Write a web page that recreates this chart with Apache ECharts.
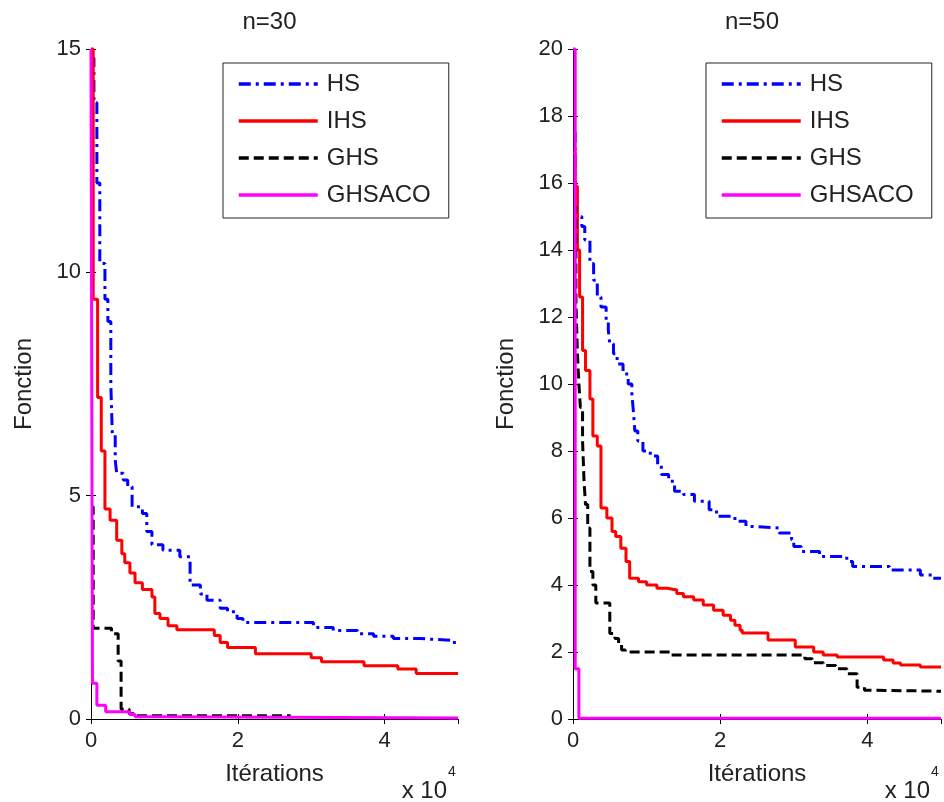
<!DOCTYPE html>
<html>
<head>
<meta charset="utf-8">
<script src="https://cdn.jsdelivr.net/npm/echarts@6/dist/echarts.min.js"></script>
<style>
html,body{margin:0;padding:0;background:#fff;}
#chart{width:944px;height:802px;}
</style>
</head>
<body>
<div id="chart"></div>
<script>
// ---- Data (x in units of 10^4 iterations) ----
const seriesNames = ['HS', 'IHS', 'GHS', 'GHSACO'];
const titles = ['n=30', 'n=50'];
const yMax = [15, 20];
const yInterval = [5, 2];
const xTicks = [0, 2, 4];

// n=30
const hs30X = [0,0.04,0.08,0.12,0.19,0.23,0.27,0.29,0.33,0.35,0.44,0.50,0.56,0.70,0.76,0.83,0.98,1.21,1.35,1.49,1.58,1.76,1.86,1.99,2.07,3.03,3.30,3.63,3.85,4.12,4.49,4.93,5.0];
const hs30Y = [14.8,13.8,12.0,10.2,9.4,8.9,7.5,6.4,5.8,5.5,5.35,5.2,4.75,4.6,4.2,3.9,3.78,3.63,3.0,2.8,2.66,2.48,2.4,2.25,2.16,2.05,1.98,1.91,1.85,1.8,1.76,1.71,1.7];
const ihs30X = [0,0.03,0.09,0.14,0.19,0.26,0.35,0.42,0.46,0.53,0.60,0.70,0.83,0.87,0.94,1.05,1.17,1.68,1.76,1.86,2.24,3.00,3.14,3.72,4.18,4.43,5.0];
const ihs30Y = [15,9.4,7.2,6.0,4.7,4.45,4.0,3.7,3.5,3.27,3.05,2.9,2.73,2.36,2.25,2.09,2.0,1.87,1.71,1.6,1.46,1.37,1.28,1.19,1.12,1.02,1.02];
const ghs30X = [0,0.03,0.28,0.37,0.41,0.52,0.60,2.72];
const ghs30Y = [4.75,2.03,1.91,1.3,0.22,0.12,0.07,0.07];
const ghsaco30X = [0,0.02,0.08,0.20,0.53,0.60,0.94,5.0];
const ghsaco30Y = [15,0.8,0.31,0.16,0.1,0.05,0.02,0.02];

// n=50
const hs50X = [0,0.03,0.12,0.16,0.23,0.28,0.33,0.38,0.45,0.48,0.50,0.55,0.60,0.68,0.75,0.80,0.82,0.84,0.88,0.95,1.05,1.15,1.20,1.30,1.38,1.50,1.65,1.85,1.95,2.20,2.35,2.45,2.80,2.97,3.00,3.10,3.35,3.72,3.80,4.30,4.72,4.88,5.0];
const hs50Y = [17.5,15.0,14.7,14.3,13.6,13.1,12.6,12.3,11.9,11.6,11.2,10.9,10.6,10.3,10.0,9.7,9.2,8.6,8.3,8.0,7.85,7.6,7.3,7.1,6.8,6.7,6.5,6.25,6.05,5.9,5.75,5.7,5.55,5.35,5.15,5.0,4.85,4.7,4.55,4.45,4.3,4.2,4.2];
const ihs50X = [0,0.03,0.06,0.09,0.13,0.17,0.23,0.27,0.33,0.38,0.46,0.53,0.58,0.65,0.72,0.77,0.89,1.00,1.14,1.28,1.41,1.50,1.64,1.77,1.91,2.04,2.14,2.20,2.27,2.30,2.65,3.02,3.27,3.40,3.59,4.22,4.35,4.45,4.72,5.0];
const ihs50Y = [16.9,15.9,14.0,12.6,11.0,10.4,9.55,8.45,8.15,6.3,6.0,5.6,5.45,5.1,4.7,4.2,4.1,4.0,3.9,3.85,3.75,3.65,3.55,3.4,3.25,3.1,2.95,2.8,2.65,2.57,2.36,2.15,2.0,1.91,1.85,1.76,1.67,1.61,1.55,1.55];
const ghs50X = [0,0.04,0.06,0.08,0.10,0.13,0.15,0.17,0.20,0.23,0.27,0.31,0.50,0.57,0.62,0.66,0.71,1.32,3.15,3.25,3.40,3.57,3.72,3.86,3.96,4.03,5.0];
const ghs50Y = [15.3,12.5,10.9,10.0,9.3,8.3,7.1,6.4,5.7,4.4,4.0,3.46,2.55,2.4,2.25,2.06,2.0,1.91,1.8,1.68,1.6,1.5,1.35,0.95,0.86,0.83,0.83];
const ghsaco50X = [0,0.03,0.08,5.0];
const ghsaco50Y = [20,1.5,0.02,0.02];

// ---- Styles ----
const FONT = '"Liberation Sans", Arial, Helvetica, sans-serif';
const TXT = '#222';
const styles = {
  HS: {color: '#0000ff', width: 3, type: [12, 5, 3, 5]},
  IHS: {color: '#ff0000', width: 3, type: 'solid'},
  GHS: {color: '#000000', width: 3, type: [10, 5]},
  GHSACO: {color: '#ff00ff', width: 3, type: 'solid'}
};
const panels = [
  [[hs30X, hs30Y], [ihs30X, ihs30Y], [ghs30X, ghs30Y], [ghsaco30X, ghsaco30Y]],
  [[hs50X, hs50Y], [ihs50X, ihs50Y], [ghs50X, ghs50Y], [ghsaco50X, ghsaco50Y]]
];
const zip = (xs, ys) => xs.map((x, i) => [x, ys[i]]);

const grids = [
  {left: 91, right: 486, top: 49, bottom: 83},
  {left: 573, right: 3, top: 49, bottom: 83}
];

const xAxes = [], yAxes = [], series = [], legends = [], titleArr = [], graphics = [];
const tickStyle = {show: true, inside: true, length: 5, lineStyle: {color: '#000', width: 1}};
const lineStyleAx = {show: true, lineStyle: {color: '#000', width: 1}};

grids.forEach((g, gi) => {
  xAxes.push({
    gridIndex: gi, type: 'value', min: 0, max: 5, interval: 2, position: 'bottom',
    axisLine: lineStyleAx, axisTick: tickStyle, splitLine: {show: false},
    axisLabel: {fontSize: 22, color: TXT, fontFamily: FONT, margin: 11, showMaxLabel: false},
    name: 'Itérations', nameLocation: 'middle', nameGap: 43,
    nameTextStyle: {fontSize: 24, color: TXT, fontFamily: FONT}
  });
  xAxes.push({
    gridIndex: gi, type: 'value', min: 0, max: 5, interval: 2, position: 'top',
    axisLine: lineStyleAx, axisTick: tickStyle, splitLine: {show: false},
    axisLabel: {show: false}
  });
  yAxes.push({
    gridIndex: gi, type: 'value', min: 0, max: yMax[gi], interval: yInterval[gi], position: 'left',
    axisLine: lineStyleAx, axisTick: tickStyle, splitLine: {show: false},
    axisLabel: {fontSize: 22, color: TXT, fontFamily: FONT, margin: 10},
    name: 'Fonction', nameLocation: 'middle', nameGap: 55,
    nameTextStyle: {fontSize: 24, color: TXT, fontFamily: FONT}
  });
  yAxes.push({
    gridIndex: gi, type: 'value', min: 0, max: yMax[gi], interval: yInterval[gi], position: 'right',
    axisLine: lineStyleAx, axisTick: tickStyle, splitLine: {show: false},
    axisLabel: {show: false}
  });
  seriesNames.forEach((name, si) => {
    const [xs, ys] = panels[gi][si];
    const st = styles[name];
    series.push({
      name: name, type: 'line', xAxisIndex: gi * 2, yAxisIndex: gi * 2,
      data: zip(xs, ys), step: 'end', symbol: 'none', showSymbol: false,
      clip: false, animation: false,
      lineStyle: {color: st.color, width: st.width, type: st.type},
      itemStyle: {color: st.color}
    });
  });
  const plotLeft = g.left, plotRight = 944 - g.right;
  titleArr.push({
    text: titles[gi], left: (plotLeft + plotRight) / 2 - 10, top: 5, textAlign: 'center',
    textStyle: {fontSize: 24, fontWeight: 'normal', color: TXT, fontFamily: FONT}
  });
  legends.push({
    data: seriesNames, orient: 'vertical', left: plotRight - 235, top: 63,
    padding: [8, 10, 10, 14], itemWidth: 79, itemHeight: 26, itemGap: 11,
    backgroundColor: '#fff', borderColor: '#222', borderWidth: 1, borderRadius: 0,
    itemStyle: {opacity: 0, borderWidth: 0},
    lineStyle: {width: 3.5},
    textStyle: {fontSize: 24, color: TXT, fontFamily: FONT, lineHeight: 26, padding: [0, 8, 0, 4]},
    selectedMode: false
  });
  graphics.push({
    type: 'text', right: 944 - plotRight + 11, top: 779,
    style: {text: 'x 10', font: '24px ' + FONT, fill: TXT}
  });
  graphics.push({
    type: 'text', left: plotRight - 10, top: 765,
    style: {text: '4', font: '14px ' + FONT, fill: TXT}
  });
});

const chart = echarts.init(document.getElementById('chart'), null, {renderer: 'canvas'});
chart.setOption({
  animation: false,
  backgroundColor: '#fff',
  title: titleArr,
  grid: grids,
  xAxis: xAxes,
  yAxis: yAxes,
  legend: legends,
  series: series,
  graphic: graphics
});
</script>
</body>
</html>
